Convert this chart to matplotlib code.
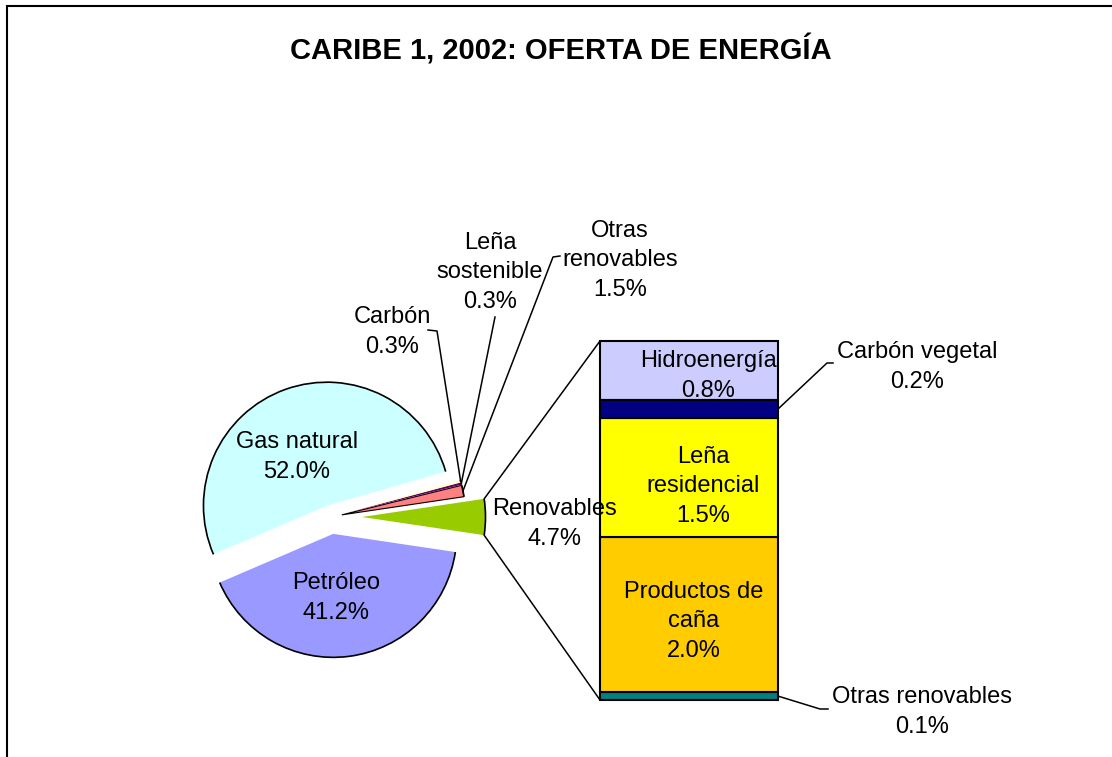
import numpy as np
import matplotlib
matplotlib.use("Agg")
import matplotlib.pyplot as plt
from matplotlib.patches import Arc, ConnectionPatch

plt.rcParams["font.family"] = ["Liberation Sans", "DejaVu Sans"]

title = "CARIBE 1, 2002: OFERTA DE ENERGÍA"

# main pie, counterclockwise starting with the split-out slice
pie_labels = ["Renovables", "Otras\nrenovables", "Leña\nsostenible", "Carbón",
              "Gas natural", "Petróleo"]
pie_values = [4.7, 1.5, 0.3, 0.3, 52.0, 41.2]
pie_colors = ["#99CC00", "#FF8080", "#660066", "#FFFFCC", "#CCFFFF", "#9999FF"]
pie_explode = [31, 11, 11, 11, 12, 17]  # px

# breakdown of "Renovables", bottom to top
bar_labels = ["Otras renovables", "Productos de\ncaña", "Leña\nresidencial",
              "Carbón vegetal", "Hidroenergía"]
bar_values = [0.1, 1.99, 1.51, 0.24, 0.75]
bar_colors = ["#008080", "#FFCC00", "#FFFF00", "#000080", "#CCCCFF"]

W, H = 1112, 757
fs = 17


def img(x, y):
    # image pixel (y down) -> data (y up)
    return x, H - y


fig = plt.figure(figsize=(W / 100, H / 100), dpi=100)
ax = fig.add_axes([0, 0, 1, 1])

cx, cy = img(331, 517)
R = 123.5
start = -pie_values[0] / sum(pie_values) * 180
wedges, _ = ax.pie(pie_values, colors=pie_colors, explode=pie_explode,
                   center=(cx, cy), radius=R, startangle=start,
                   counterclock=True, wedgeprops=dict(linewidth=0))
ax.set_xlim(0, W)
ax.set_ylim(0, H)
ax.set_aspect("equal")
ax.axis("off")

for w in wedges:
    ax.add_patch(Arc(w.center, 2 * w.r, 2 * w.r, theta1=w.theta1,
                     theta2=w.theta2, color="black", lw=1.2))
wedges[1].set_edgecolor("black")
wedges[1].set_linewidth(0.8)


def rim(w, ang=None):
    if ang is None:
        ang = (w.theta1 + w.theta2) / 2
    a = np.deg2rad(ang)
    return w.center[0] + w.r * np.cos(a), w.center[1] + w.r * np.sin(a)


# frame (cut off at right and bottom)
ax.plot([7, 7, W], [0, H - 6, H - 6], color="black", lw=1.5,
        solid_joinstyle="miter", clip_on=False)

ax.text(561, H - 60, title, ha="center", va="baseline", fontsize=21,
        fontweight="bold")

# leader lines for the thin slices
leaders = {1: [(560, 256), (553, 257)], 2: [(495, 317)], 3: [(428, 330), (437, 331)]}
for i, pts in leaders.items():
    xs = [p[0] for p in pts] + [rim(wedges[i])[0]]
    ys = [H - p[1] for p in pts] + [rim(wedges[i])[1]]
    ax.plot(xs, ys, color="black", lw=1.1)

# stacked bar
bax = fig.add_axes([600 / W, (H - 700) / H, 178 / W, 359 / H])
bottoms = np.concatenate([[0], np.cumsum(bar_values)[:-1]])
total = sum(bar_values)
bars = bax.bar(0, bar_values, bottom=bottoms, width=1, color=bar_colors,
               edgecolor="black", linewidth=1.5, clip_on=False)
bars[3].set_zorder(2)
bax.set_xlim(-0.5, 0.5)
bax.set_ylim(0, total)
bax.axis("off")

# pie labels: (centre x, last-line baseline y) in image px
# drawn in bax so "Renovables" sits on top of the bar edge
pie_pos = [(555, 545), (620, 296), (490, 308), (392, 353), (297, 478), (336, 619)]
for lab, v, (x, y) in zip(pie_labels, pie_values, pie_pos):
    bax.text(*img(x, y), f"{lab}\n{v:.1f}%", ha="center", va="baseline",
             fontsize=fs, linespacing=1.45, transform=ax.transData)

bar_pos = [(922, 733), (694, 657), (703, 522), (917, 388), (708, 397)]
for k, (lab, v, (x, y)) in enumerate(zip(bar_labels, bar_values, bar_pos)):
    bax.text(*img(x, y), f"{lab}\n{v:.1f}%", ha="center", va="baseline",
             fontsize=fs, linespacing=1.45, transform=ax.transData,
             zorder=1.5 if k == 4 else 3)

# connectors pie -> bar
ren = wedges[0]
for ang, yb in [(ren.theta2, total), (ren.theta1, 0)]:
    con = ConnectionPatch(xyA=rim(ren, ang), coordsA=ax.transData,
                          xyB=(-0.5, yb), coordsB=bax.transData,
                          color="black", lw=1.1)
    fig.add_artist(con)

to_ax = ax.transData.inverted()
for k, pts in [(3, [(827, 363), (833, 363)]), (0, [(820, 709), (828, 709)])]:
    p0 = to_ax.transform(bax.transData.transform((0.5, bottoms[k] + bar_values[k] / 2)))
    xs = [p0[0]] + [p[0] for p in pts]
    ys = [p0[1]] + [H - p[1] for p in pts]
    ax.plot(xs, ys, color="black", lw=1.1)

fig.savefig("out.png", dpi=100)
